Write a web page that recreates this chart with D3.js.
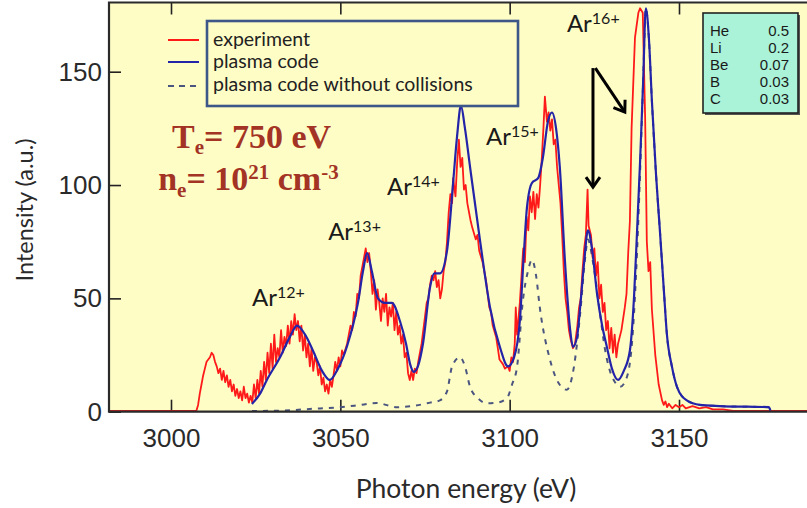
<!DOCTYPE html>
<html>
<head>
<meta charset="utf-8">
<script src="https://cdn.jsdelivr.net/npm/d3@7"></script>
<style>
  body { margin: 0; background: #fff; }
  svg { display: block; }
</style>
</head>
<body>
<div id="chart"></div>
<script>
// ---- data (photon energy in eV, intensity in a.u.) ----
var xTicks = [3000, 3050, 3100, 3150];
var yTicks = [0, 50, 100, 150];

var experiment = [
  [2981,0.4],[3007.5,0.4],
  [3008,3],[3008.5,8],[3009,12],[3009.5,16],[3010,19],[3010.5,22],[3011,23],[3011.5,24],[3012,26],[3012.5,25],
  [3013,22],[3013.5,20],[3014,17],[3014.5,19],[3015,14],[3015.5,18],[3016,13],[3016.5,16],[3017,11],[3017.5,14],
  [3018,9],[3018.5,12],[3019,7],[3019.5,10],[3020,6],[3020.5,9],[3021,5],[3021.5,11],[3022,6],[3022.5,8],[3023,4],[3023.5,7],
  [3024,4],[3024.5,12],[3025,6],[3025.5,14],[3026,8],[3026.5,18],[3027,11],[3027.5,22],[3028,14],[3028.5,26],[3029,17],
  [3029.5,30],[3030,19],[3030.5,34],[3031,22],[3031.5,28],[3032,24],[3032.5,36],[3033,26],[3033.5,33],[3034,29],[3034.5,38],
  [3035,30],[3035.5,40],[3036,34],[3036.5,43],[3037,36],[3037.5,40],[3038,31],[3038.5,38],[3039,27],[3039.5,34],[3040,24],
  [3040.5,30],[3041,20],[3041.5,28],[3042,18],[3042.5,24],
  [3043,22],[3043.5,16],[3044,20],[3044.5,12],[3045,15],[3045.5,9],[3046,12],[3046.5,8],[3047,14],[3047.5,11],[3048,16],
  [3048.5,22],[3049,18],[3049.5,24],[3050,20],[3050.5,27],[3051,25],
  [3052,30],[3052.5,34],[3053,38],[3053.5,36],[3054,44],[3054.5,42],[3055,52],[3055.5,50],[3056,60],[3056.5,64],[3057,68],
  [3057.5,72],[3058,66],[3058.5,70],
  [3059,62],[3059.5,52],[3060,58],[3060.5,45],[3061,54],[3061.5,48],[3062,40],[3062.5,50],[3063,44],[3063.5,52],[3064,38],
  [3064.5,46],[3065,42],[3065.5,48],[3066,36],[3066.5,44],[3067,34],
  [3067.5,38],[3068,30],[3068.5,34],[3069,24],[3069.5,26],[3070,17],[3070.5,14],[3071,18],[3071.5,14],[3072,19],[3072.5,17],
  [3073,22],[3073.5,26],[3074,30],[3074.5,36],[3075,42],[3075.5,48],
  [3076,50],[3076.5,56],[3077,60],[3077.5,58],[3078,62],[3078.5,55],[3079,58],[3079.5,50],[3080,54],[3080.5,62],[3081,66],
  [3081.5,75],[3082,88],[3082.5,96],[3083,92],[3083.3,103],[3084,95],[3084.5,110],[3085,120],[3085.5,108],[3086,112],
  [3086.5,98],[3087,100],[3087.5,92],[3088,88],[3088.5,84],[3089,81],[3090,76],[3090.5,78],[3091,71],[3092,66],[3092.5,62],
  [3093,58],[3094,46],[3094.5,44],[3095,38],[3096,33],[3096.5,28],[3097,23],[3098,21],[3098.6,19],[3099.5,20],[3100,18],
  [3100.5,24],[3101,22],[3101.5,30],[3101.8,46],[3102.2,34],[3103,48],[3103.5,60],[3104,72],[3104.5,66],[3105,86],[3105.5,80],
  [3106,95],[3106.5,88],[3107,97],[3107.5,85],[3108,96],[3108.5,90],[3109,100],[3109.5,112],[3110,126],[3110.4,139],[3111,128],
  [3111.5,132],[3112,124],[3112.5,129],[3113,118],[3113.5,120],[3114,108],[3114.5,100],[3115,92],[3115.5,78],[3116,62],
  [3116.5,50],[3117,44],[3117.5,36],[3118,32],[3118.7,28],[3119.3,30],[3120,38],[3120.5,46],[3121,50],[3121.5,62],[3122,72],
  [3122.5,78],[3123,98],[3123.3,82],[3124,78],[3124.5,68],[3125,72],[3125.5,60],[3126,66],[3126.5,50],[3127,56],[3127.5,44],
  [3128,48],[3128.5,36],[3129,40],[3129.5,28],[3130,37],[3130.5,26],[3131,34],[3131.5,24],[3132,30],[3133,36],[3134,46],
  [3134.5,52],[3135,70],[3135.5,84],[3136,125],[3137,165],[3138,176],[3138.5,178],[3139.3,176],[3140,130],[3140.5,75],
  [3141,62],[3141.5,66],[3142,45],[3143,25],[3144,12],[3145,5],[3145.5,3],[3146,4.5],[3146.5,2],[3147,3.5],[3148,1.5],
  [3149,3],[3150,2],[3151,3],[3152,1.5],[3154,2.5],[3156,1.5],[3158,2],[3160,1],[3163,1],[3166,0.4],[3195,0.4]
];

var plasmaCode = [
  [3023.9,3.4],[3026.3,8],[3028.3,14],[3032.2,24],[3035.1,33],[3037.2,38],[3039.6,34],[3041.9,27],[3044.6,18],[3046.9,14],
  [3049.3,19],[3052.0,29],[3055.2,48],[3056.7,62],[3057.9,70],[3059.3,62],[3061.1,50],[3063.2,48],[3065.2,48],[3067.6,40],
  [3069.4,30],[3070.6,21],[3071.7,17.6],[3072.9,20],[3074.4,30],[3076.5,55],[3077.7,61],[3079.4,61],[3081.5,71],[3083.3,101],
  [3084.5,122],[3085.6,135],[3086.8,125],[3088.3,108],[3091.2,76],[3094.2,46],[3097.1,28.6],[3099.5,20],[3101.3,24],
  [3103.0,40],[3104.2,70],[3105.1,90],[3106.6,101],[3108.4,103],[3109.8,112],[3111.3,128],[3112.5,132],[3113.7,125],
  [3114.8,108],[3116.3,67],[3117.8,37],[3118.7,28.6],[3119.9,33],[3120.8,46],[3122.0,66],[3123.1,80],[3124.3,72],
  [3125.8,52],[3127.3,38],[3128.7,28.6],[3130.2,19],[3132.0,14],[3133.7,18],[3135.5,27],[3136.7,50],[3137.6,79],
  [3138.5,110],[3139.4,145],[3140.2,178],[3141.1,165],[3142.0,137],[3143.2,105],[3144.4,79],[3145.6,52],[3146.4,34.6],
  [3147.9,20],[3149.4,11],[3152.3,5],[3156.2,3],[3162,2.5],[3170,2.2],[3176.5,2],[3177,0.5]
];

var noCollisions = [
  [3023.9,0.3],[3033.1,0.5],[3041,1.2],[3049.9,2],[3055,2.8],[3060.8,3.8],[3066.7,2],[3071.4,2.5],[3076.5,4],[3079.4,5],
  [3081.5,9],[3083,20],[3085.3,24],[3086.8,20],[3088.3,11],[3090.6,6],[3093.3,3.7],[3096.3,4],[3099.2,6],[3100.7,12],
  [3102.2,20],[3103.9,49],[3105.4,62],[3106.6,67],[3107.8,60],[3108.9,46],[3111.9,23],[3114.3,13],[3116.9,9.7],[3119,20],
  [3120.8,43],[3122.3,68],[3123.1,76],[3124.6,66],[3126.7,43],[3128.1,28],[3129.6,18],[3131.1,13],[3132.6,11],[3134.3,14],
  [3136.1,30],[3137.3,60],[3138.5,105],[3139.4,145],[3140.2,178],[3141.1,165],[3142,137],[3143.2,105],[3144.4,79],
  [3145.6,52],[3146.4,34.6],[3147.9,20],[3149.4,11],[3152.3,5],[3156.2,3],[3162,2.5],[3170,2.2],[3176.5,2]
];

// ion labels: [eV, intensity, charge]
var ionLabels = [
  [3023.9, 46.6, "12+"],
  [3046.4, 75.7, "13+"],
  [3063.8, 95.6, "14+"],
  [3093.0, 117.7, "15+"],
  [3116.9, 167.5, "16+"]
];
// arrows from the Ar16+ label: [eV1, int1, eV2, int2]
var arrows = [
  [3124.6, 151.6, 3124.6, 99.1],
  [3125.3, 151.6, 3134.0, 132.2]
];

var impurities = ["He", "Li", "Be", "B", "C"];
var fractions = ["0.5", "0.2", "0.07", "0.03", "0.03"];

var legendLabels = ["experiment", "plasma code", "plasma code without collisions"];

// ---- layout ----
var width = 807;
var height = 508;
var plotLeft = 109, plotTop = 2.5, plotRight = 830, plotBottom = 411.7;

var svg = d3.select("#chart")
  .append("svg")
  .attr("width", width)
  .attr("height", height);

var x = d3.scaleLinear().domain([3000, 3150]).range([171, 679]);
var y = d3.scaleLinear().domain([0, 150]).range([411.7, 71.7]);

svg.append("defs").append("clipPath")
  .attr("id", "plotClip")
  .append("rect")
  .attr("x", plotLeft).attr("y", plotTop)
  .attr("width", plotRight - plotLeft).attr("height", plotBottom - plotTop + 1);

svg.append("rect")
  .attr("x", plotLeft).attr("y", plotTop)
  .attr("width", plotRight - plotLeft).attr("height", plotBottom - plotTop)
  .attr("fill", "#fffdc6");

// arrow marker
svg.select("defs").append("marker")
  .attr("id", "head")
  .attr("markerUnits", "userSpaceOnUse")
  .attr("markerWidth", 20).attr("markerHeight", 20)
  .attr("viewBox", "0 0 20 20")
  .attr("refX", 13).attr("refY", 10)
  .attr("orient", "auto")
  .append("path")
  .attr("d", "M3,3 L13,10 L3,17")
  .attr("fill", "none")
  .attr("stroke", "#000")
  .attr("stroke-width", 3);

//axes
var xAxis = d3.axisBottom(x).tickValues(xTicks).tickFormat(d3.format("d"))
  .tickSizeInner(-12).tickSizeOuter(0).tickPadding(17);
var xAxisTop = d3.axisTop(x).tickValues(xTicks).tickSizeInner(-12).tickSizeOuter(0).tickFormat("");
var yAxis = d3.axisLeft(y).tickValues(yTicks).tickFormat(d3.format("d"))
  .tickSizeInner(-12).tickSizeOuter(0).tickPadding(7);

function styleAxis(g) {
  g.select(".domain").remove();
  g.selectAll(".tick line").attr("stroke", "#222").attr("stroke-width", 1.6);
  g.selectAll(".tick text")
    .attr("fill", "#2a2a2a")
    .style("font-family", "'Liberation Sans', Arial, sans-serif")
    .style("font-size", "26px");
}

svg.append("g").attr("transform", "translate(0," + plotBottom + ")").call(xAxis).call(styleAxis);
svg.append("g").attr("transform", "translate(0," + plotTop + ")").call(xAxisTop).call(styleAxis);
svg.append("g").attr("transform", "translate(" + plotLeft + ",0)").call(yAxis).call(styleAxis);

// curves
var line = d3.line()
  .x(function(d) { return x(d[0]); })
  .y(function(d) { return y(d[1]); })
  .curve(d3.curveMonotoneX);

var curves = svg.append("g").attr("clip-path", "url(#plotClip)");

curves.append("path")
  .datum(noCollisions)
  .attr("d", line)
  .attr("fill", "none")
  .attr("stroke", "#4b5680")
  .attr("stroke-width", 2)
  .attr("stroke-dasharray", "5,6");

curves.append("path")
  .datum(experiment)
  .attr("d", d3.line().x(function(d) { return x(d[0]); }).y(function(d) { return y(d[1]); }))
  .attr("fill", "none")
  .attr("stroke", "#ff1a1a")
  .attr("stroke-width", 1.8)
  .attr("stroke-linejoin", "round");

curves.append("path")
  .datum(plasmaCode)
  .attr("d", line)
  .attr("fill", "none")
  .attr("stroke", "#2424a8")
  .attr("stroke-width", 2.2);

// frame
svg.append("path")
  .attr("d", "M" + plotRight + "," + plotTop + "H" + plotLeft + "V" + plotBottom + "H" + plotRight)
  .attr("fill", "none")
  .attr("stroke", "#2a2a2a")
  .attr("stroke-width", 2.2);

// axis titles
svg.append("text")
  .attr("transform", "translate(33,210)rotate(-90)")
  .attr("text-anchor", "middle")
  .attr("fill", "#2a2a2a")
  .style("font-family", "Lato, sans-serif")
  .style("font-size", "23.5px")
  .text("Intensity (a.u.)");

svg.append("text")
  .attr("x", 466).attr("y", 498)
  .attr("text-anchor", "middle")
  .attr("fill", "#2a2a2a")
  .style("font-family", "Lato, sans-serif")
  .style("font-size", "26.5px")
  .text("Photon energy (eV)");

// legend
var legend = svg.append("g");
legend.append("rect")
  .attr("x", 207).attr("y", 21)
  .attr("width", 311).attr("height", 85)
  .attr("fill", "#fffdc6")
  .attr("stroke", "#3c5788")
  .attr("stroke-width", 2.6);

var legendStyles = [
  { color: "#ff1a1a", dash: null },
  { color: "#2424a8", dash: null },
  { color: "#4b5680", dash: "6,5" }
];
var legendRowY = [40, 62, 86];
var legendTextY = [46, 68, 91];

legendLabels.forEach(function(label, i) {
  legend.append("line")
    .attr("x1", 168).attr("x2", 199)
    .attr("y1", legendRowY[i]).attr("y2", legendRowY[i])
    .attr("stroke", legendStyles[i].color)
    .attr("stroke-width", 2)
    .attr("stroke-dasharray", legendStyles[i].dash);
  legend.append("text")
    .attr("x", 213).attr("y", legendTextY[i])
    .attr("fill", "#222")
    .style("font-family", "Lato, sans-serif")
    .style("font-size", "19.5px")
    .text(label);
});

// plasma parameters
var params = svg.append("g")
  .attr("fill", "#a33324")
  .style("font-family", "'Liberation Serif', 'Times New Roman', serif")
  .style("font-weight", "bold");

var te = params.append("text")
  .attr("x", x(3000.3)).attr("y", y(116.3))
  .style("font-size", "34px");
te.append("tspan").text("T");
te.append("tspan").attr("dy", 6).style("font-size", "21px").text("e");
te.append("tspan").attr("dy", -6).text("= 750 eV");

var ne = params.append("text")
  .attr("x", x(2996.2)).attr("y", y(97.8))
  .style("font-size", "34px");
ne.append("tspan").text("n");
ne.append("tspan").attr("dy", 7).style("font-size", "21px").text("e");
ne.append("tspan").attr("dy", -7).text("= 10");
ne.append("tspan").attr("dy", -11).style("font-size", "21px").text("21");
ne.append("tspan").attr("dy", 11).text(" cm");
ne.append("tspan").attr("dy", -11).style("font-size", "21px").text("-3");

// ion labels
ionLabels.forEach(function(d) {
  var t = svg.append("text")
    .attr("x", x(d[0])).attr("y", y(d[1]))
    .attr("fill", "#1a1a1a")
    .style("font-family", "Lato, sans-serif")
    .style("font-size", "24px");
  t.append("tspan").text("Ar");
  t.append("tspan").attr("dy", -8).style("font-size", "16px").text(d[2]);
});

arrows.forEach(function(a) {
  svg.append("line")
    .attr("x1", x(a[0])).attr("y1", y(a[1]))
    .attr("x2", x(a[2])).attr("y2", y(a[3]))
    .attr("stroke", "#000")
    .attr("stroke-width", 3)
    .attr("marker-end", "url(#head)");
});

// impurity fractions box
var box = svg.append("g");
box.append("rect")
  .attr("x", 705).attr("y", 15)
  .attr("width", 95).attr("height", 100)
  .attr("fill", "#555");
box.append("rect")
  .attr("x", 703).attr("y", 13)
  .attr("width", 95).attr("height", 100)
  .attr("fill", "#aaf2d8")
  .attr("stroke", "#222")
  .attr("stroke-width", 1.6);

var rowY = [36, 53, 70, 87, 104];
impurities.forEach(function(el, i) {
  box.append("text")
    .attr("x", 710).attr("y", rowY[i])
    .attr("fill", "#1a1a1a")
    .style("font-family", "'Liberation Sans', Arial, sans-serif")
    .style("font-size", "15px")
    .text(el);
  box.append("text")
    .attr("x", 789).attr("y", rowY[i])
    .attr("text-anchor", "end")
    .attr("fill", "#1a1a1a")
    .style("font-family", "'Liberation Sans', Arial, sans-serif")
    .style("font-size", "15px")
    .text(fractions[i]);
});
</script>
</body>
</html>
